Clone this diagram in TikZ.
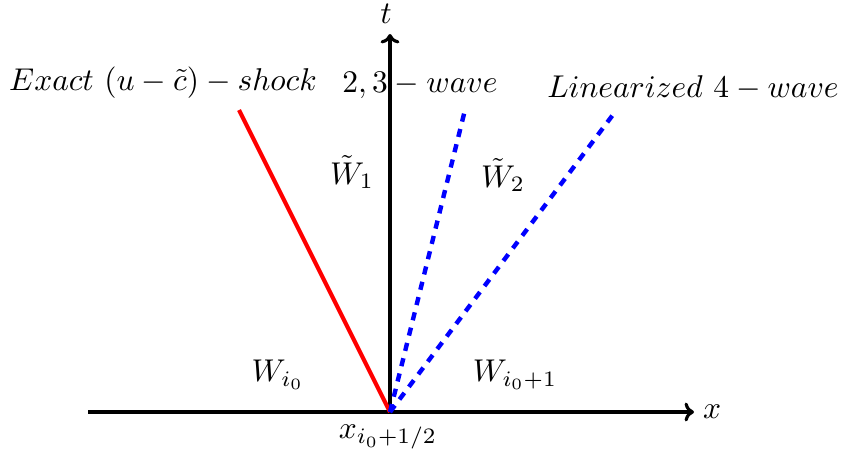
\documentclass[tikz,border=0pt]{standalone}
\usetikzlibrary{arrows.meta}
\begin{document}
\begin{tikzpicture}[x=0.3175pt,y=-0.3175pt,
  axis/.style={line width=1pt,-{To[length=3pt,width=6pt]}},
  shockline/.style={red,line width=1.3pt},
  waveline/.style={blue,line width=1.4pt,dash pattern=on 2.6pt off 2.4pt},
  lbl/.style={inner sep=0pt}]
\useasboundingbox (0,0) rectangle (843,455);
\coordinate (o) at (390,412);
\coordinate (xl) at (88,412);
\coordinate (xr) at (694,412);
\coordinate (tt) at (390,34);
\coordinate (s) at (239,110);
\coordinate (w1) at (465,110);
\coordinate (w2) at (615,112);
\draw[axis] (xl) -- (xr);
\draw[axis] (o) -- (tt);
\draw[shockline] (o) -- (s);
\draw[waveline] (o) -- (w1);
\draw[waveline] (o) -- (w2);
\node[lbl] (lx) at (712,412) {$x$};
\node[lbl] (lt) at (386,14) {$t$};
\node[lbl] (ls) at (163,83) {$Exact\ (u-\tilde c)-shock$};
\node[lbl] (l23) at (420,85) {$2,3-wave$};
\node[lbl] (l4) at (693,88) {$Linearized\ 4-wave$};
\node[lbl] (W1) at (352,172) {$\tilde W_1$};
\node[lbl] (W2) at (503,175) {$\tilde W_2$};
\node[lbl] (Wi) at (278,375) {$W_{i_0}$};
\node[lbl] (Wip) at (515,375) {$W_{i_0+1}$};
\node[lbl] (xi) at (388,437) {$x_{i_0+1/2}$};
\end{tikzpicture}
\end{document}
